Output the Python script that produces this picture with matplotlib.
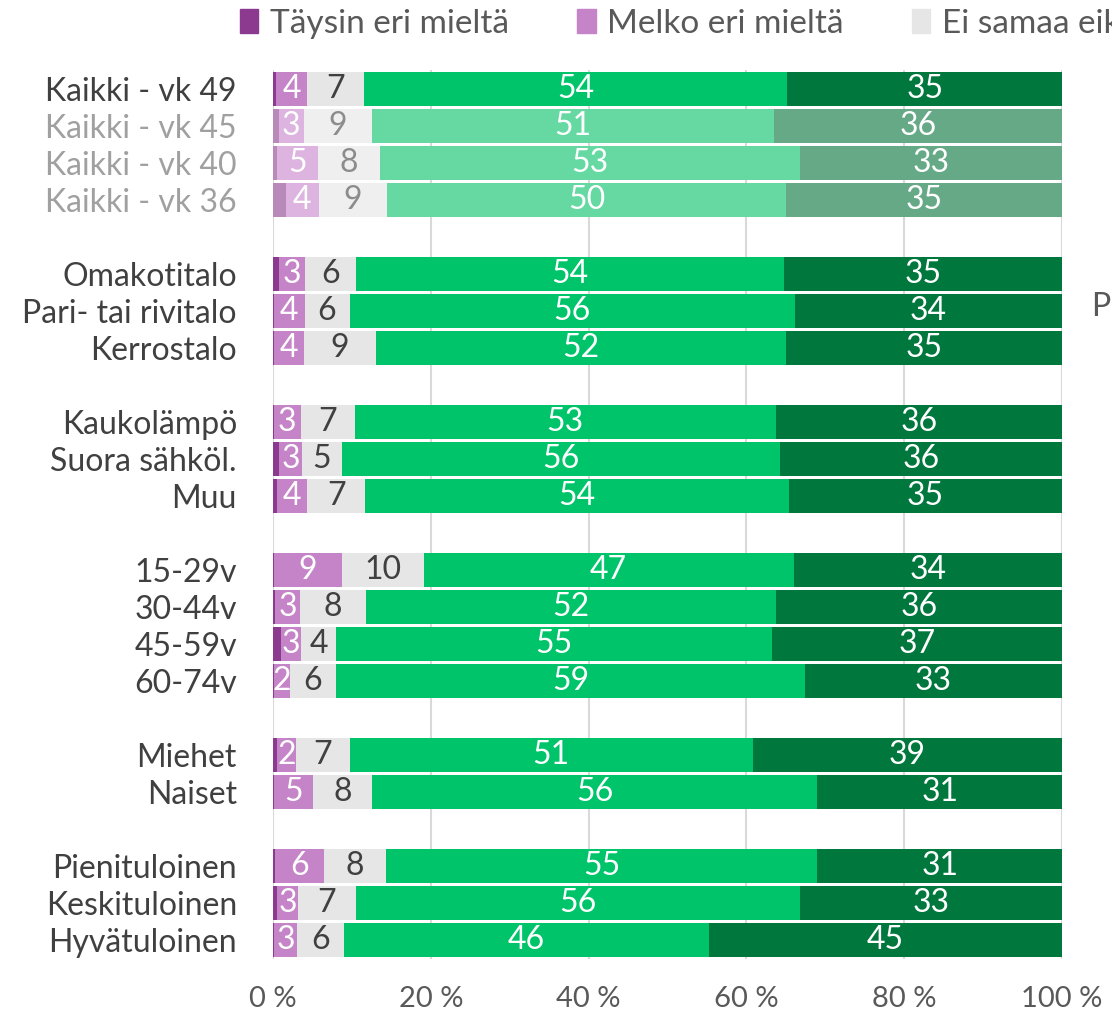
import matplotlib.pyplot as plt
from matplotlib.patches import Patch
import numpy as np

plt.rcParams['font.family'] = ['Lato', 'DejaVu Sans']

rows = ["Kaikki - vk 49", "Kaikki - vk 45", "Kaikki - vk 40", "Kaikki - vk 36",
        "Omakotitalo", "Pari- tai rivitalo", "Kerrostalo",
        "Kaukolämpö", "Suora sähköl.", "Muu",
        "15-29v", "30-44v", "45-59v", "60-74v",
        "Miehet", "Naiset",
        "Pienituloinen", "Keskituloinen", "Hyvätuloinen"]
# slot of each row (blank slot between groups)
slots = [0, 1, 2, 3, 5, 6, 7, 9, 10, 11, 13, 14, 15, 16, 18, 19, 21, 22, 23]
faded = [False, True, True, True] + [False] * 15

series = ["Täysin eri mieltä", "Melko eri mieltä", "Ei samaa eikä eri mieltä",
          "Melko samaa mieltä", "Täysin samaa mieltä"]

taysin_eri = [0.4, 0.7, 0.5, 1.6, 0.7, 0.1, 0.1, 0.1, 0.8, 0.5, 0.1, 0.3, 1.0, 0.1, 0.5, 0.1, 0.2, 0.5, 0.1]
melko_eri = [3.9, 3.2, 5.2, 4.2, 3.4, 3.9, 3.8, 3.4, 2.9, 3.8, 8.7, 3.1, 2.6, 2.0, 2.4, 5.0, 6.3, 2.7, 3.0]
ei_samaa = [7.2, 8.6, 7.9, 8.7, 6.4, 5.7, 9.2, 6.9, 5.0, 7.4, 10.3, 8.4, 4.4, 5.9, 6.8, 7.5, 7.8, 7.3, 5.9]
melko_samaa = [53.7, 51.0, 53.2, 50.5, 54.3, 56.4, 51.9, 53.3, 55.5, 53.7, 46.9, 52.0, 55.3, 59.4, 51.1, 56.4, 54.7, 56.3, 46.2]
taysin_samaa = [34.8, 36.5, 33.2, 35.0, 35.2, 33.9, 35.0, 36.3, 35.8, 34.6, 34.0, 36.2, 36.7, 32.6, 39.2, 31.0, 31.0, 33.2, 44.8]

data = [taysin_eri, melko_eri, ei_samaa, melko_samaa, taysin_samaa]

colors = ["#8b3a8f", "#c583c8", "#e6e6e6", "#00c46a", "#00773d"]
colors_faded = ["#b98ab9", "#dcb4df", "#efefef", "#66d9a3", "#66a987"]
label_col = [None, "white", "#404040", "white", "white"]
label_col_faded = [None, "white", "#8c8c8c", "white", "white"]

fig = plt.figure(figsize=(11.12, 10.21), dpi=100)
ax = fig.add_axes([273 / 1112, 1 - 958.5 / 1021, 789 / 1112, 888 / 1021])

y = np.array(slots)
left = np.zeros(len(rows))
for i, vals in enumerate(data):
    vals = np.array(vals)
    cols = [colors_faded[i] if f else colors[i] for f in faded]
    ax.barh(y, vals, left=left, height=0.92, color=cols, zorder=3)
    if label_col[i] is not None:
        for j, v in enumerate(vals):
            c = label_col_faded[i] if faded[j] else label_col[i]
            ax.text(left[j] + v / 2, y[j], f"{v:.0f}", ha="center", va="center",
                    fontsize=23, color=c, zorder=4)
    left += vals

ax.set_xlim(0, 100)
ax.set_ylim(23.5, -0.5)
ax.set_xticks([0, 20, 40, 60, 80, 100])
ax.set_xticklabels(["0 %", "20 %", "40 %", "60 %", "80 %", "100 %"])
ax.set_yticks(y)
ax.set_yticklabels(rows)
for t, f in zip(ax.get_yticklabels(), faded):
    t.set_color("#a0a0a0" if f else "#404040")
ax.tick_params(axis="y", length=0, pad=26, labelsize=23)
ax.tick_params(axis="x", length=0, pad=20, labelsize=21, labelcolor="#595959")
ax.grid(axis="x", color="#d9d9d9", linewidth=1.5, zorder=0)
for s in ax.spines.values():
    s.set_visible(False)

handles = [Patch(color=c) for c in colors]
fig.legend(handles, series, loc="upper left", bbox_to_anchor=(210 / 1112, 1.021),
           ncol=5, frameon=False, fontsize=24, labelcolor="#595959",
           handlelength=0.55, handleheight=0.7, handletextpad=0.35, columnspacing=2.05)

fig.text(1091 / 1112, 1 - 307 / 1021, "P", fontsize=23, color="#595959", va="center")

fig.savefig("out.png", dpi=100)
